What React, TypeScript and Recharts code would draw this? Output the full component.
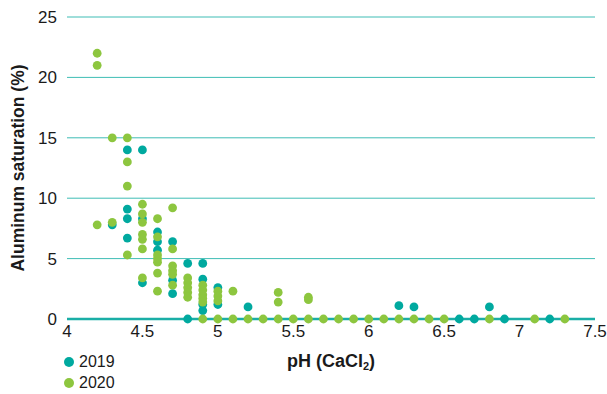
import React from "react";
import {
  ScatterChart,
  Scatter,
  XAxis,
  YAxis,
  CartesianGrid,
} from "recharts";

// pH (CaCl2) vs aluminium saturation (%)
const points2019: [number, number][] = [
  [4.3, 7.8], [4.4, 14], [4.4, 9.1], [4.4, 8.3], [4.4, 6.7],
  [4.5, 14], [4.5, 8.3], [4.5, 3.0],
  [4.6, 7.2], [4.6, 6.4], [4.6, 5.7],
  [4.7, 6.4], [4.7, 3.2], [4.7, 2.1],
  [4.8, 4.6], [4.8, 0],
  [4.9, 4.6], [4.9, 3.3], [4.9, 1.2], [4.9, 0.7],
  [5.0, 2.6], [5.0, 1.2],
  [5.2, 1.0],
  [6.2, 1.1], [6.3, 1.0], [6.6, 0], [6.7, 0], [6.8, 1.0], [6.9, 0], [7.2, 0],
];

const points2020: [number, number][] = [
  [4.2, 22], [4.2, 21], [4.2, 7.8],
  [4.3, 15], [4.3, 8.0],
  [4.4, 15], [4.4, 13], [4.4, 11], [4.4, 5.3],
  [4.5, 9.5], [4.5, 8.7], [4.5, 8.0], [4.5, 7.0], [4.5, 6.6], [4.5, 5.8], [4.5, 3.4],
  [4.6, 8.3], [4.6, 6.8], [4.6, 5.3], [4.6, 5.0], [4.6, 4.7], [4.6, 3.8], [4.6, 2.3],
  [4.7, 9.2], [4.7, 5.8], [4.7, 4.4], [4.7, 4.0], [4.7, 3.7], [4.7, 2.8],
  [4.8, 3.4], [4.8, 3.0], [4.8, 2.6], [4.8, 2.2], [4.8, 1.8],
  [4.9, 2.8], [4.9, 2.4], [4.9, 2.0], [4.9, 1.7], [4.9, 1.4], [4.9, 0],
  [5.0, 2.3], [5.0, 1.9], [5.0, 1.5], [5.0, 0],
  [5.1, 2.3], [5.1, 0],
  [5.2, 0], [5.3, 0],
  [5.4, 2.2], [5.4, 1.4], [5.4, 0],
  [5.5, 0],
  [5.6, 1.8], [5.6, 1.6], [5.6, 0],
  [5.7, 0], [5.8, 0], [5.9, 0], [6.0, 0], [6.1, 0], [6.2, 0], [6.3, 0],
  [6.4, 0], [6.5, 0], [6.8, 0], [7.1, 0], [7.3, 0],
];

const xTicks = [4, 4.5, 5, 5.5, 6, 6.5, 7, 7.5];
const yTicks = [0, 5, 10, 15, 20, 25];
const seriesNames = ["2019", "2020"];

const TEAL = "#00a99f";
const GREEN = "#8dc63f";
const FONT = "'Liberation Sans', Arial, Helvetica, sans-serif";

const data2019 = points2019.map(([ph, al]) => ({ ph, al }));
const data2020 = points2020.map(([ph, al]) => ({ ph, al }));

const dot = (color: string) => (props: any) => (
  <circle cx={props.cx} cy={props.cy} r={4.4} fill={color} />
);

const XTitle = (props: any) => {
  const vb = props.viewBox || {};
  const cx = vb.x + vb.width / 2;
  return (
    <text
      x={cx}
      y={vb.y + 48}
      textAnchor="middle"
      fontFamily={FONT}
      fontSize={18}
      fontWeight={700}
      fill="#1a1a1a"
    >
      pH (CaCl
      <tspan fontSize={11} dy={3}>2</tspan>
      <tspan dy={-3}>)</tspan>
    </text>
  );
};

const YTitle = (props: any) => {
  const vb = props.viewBox || {};
  const cx = 18;
  const cy = vb.y + vb.height / 2;
  return (
    <text
      x={cx}
      y={cy}
      transform={`rotate(-90 ${cx} ${cy})`}
      textAnchor="middle"
      dominantBaseline="central"
      fontFamily={FONT}
      fontSize={17.5}
      fontWeight={700}
      fill="#1a1a1a"
    >
      Aluminum saturation (%)
    </text>
  );
};

export default function App() {
  return (
    <div style={{ position: "absolute", left: 0, top: 0, width: 607, height: 394, background: "#fff" }}>
      <ScatterChart
        width={607}
        height={394}
        margin={{ top: 17, right: 12, left: 8, bottom: 45 }}
      >
        <CartesianGrid vertical={false} stroke="#3fbdb5" strokeWidth={1} />
        <XAxis
          type="number"
          dataKey="ph"
          domain={[4, 7.5]}
          ticks={xTicks}
          height={30}
          axisLine={{ stroke: "#1aaea6", strokeWidth: 2.5 }}
          tickLine={false}
          tick={{ fill: "#1a1a1a", fontSize: 17, fontFamily: FONT }}
          tickMargin={0}
          label={XTitle}
          allowDataOverflow
        />
        <YAxis
          type="number"
          dataKey="al"
          domain={[0, 25]}
          ticks={yTicks}
          width={59}
          axisLine={false}
          tickLine={false}
          tick={{ fill: "#1a1a1a", fontSize: 17, fontFamily: FONT }}
          tickMargin={4}
          label={YTitle}
        />
        <Scatter
          name="2019"
          data={data2019}
          fill={TEAL}
          shape={dot(TEAL)}
          isAnimationActive={false}
        />
        <Scatter
          name="2020"
          data={data2020}
          fill={GREEN}
          shape={dot(GREEN)}
          isAnimationActive={false}
        />
      </ScatterChart>
      <div
        style={{
          position: "absolute",
          left: 63,
          top: 351,
          fontFamily: FONT,
          fontSize: 16,
          color: "#1a1a1a",
          lineHeight: "21px",
        }}
      >
        {seriesNames.map((name, i) => (
          <div key={name} style={{ display: "flex", alignItems: "center" }}>
            <svg width={12} height={12} style={{ marginRight: 4 }}>
              <circle cx={6} cy={6} r={5} fill={i === 0 ? TEAL : GREEN} />
            </svg>
            <span>{name}</span>
          </div>
        ))}
      </div>
    </div>
  );
}
